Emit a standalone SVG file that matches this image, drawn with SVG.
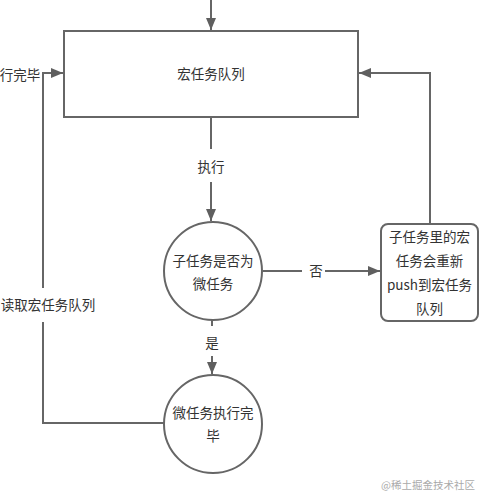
<svg xmlns="http://www.w3.org/2000/svg" width="488" height="504" viewBox="0 0 488 504">
<defs>
<marker id="ah" viewBox="0 0 12 10" refX="12" refY="5" markerWidth="12" markerHeight="10" markerUnits="userSpaceOnUse" orient="auto">
<path d="M0,0 L12,5 L0,10 Z" fill="#5f5f5f"/>
</marker>
<style>
.ln{fill:none;stroke:#666;stroke-width:2}
.nd{fill:#fff;stroke:#666;stroke-width:2}
.t{font-family:"Noto Sans CJK SC","Noto Sans",sans-serif;font-size:13.5px;fill:#333;text-anchor:middle;dominant-baseline:central}
.wm{font-family:"Noto Sans CJK SC","Noto Sans",sans-serif;font-size:10.5px;fill:#aaa;text-anchor:middle;dominant-baseline:central}
</style>
</defs>
<rect width="488" height="504" fill="#fff"/>
<g id="connectors">
<path class="ln" d="M211,0 L211,30" marker-end="url(#ah)"/>
<path class="ln" d="M211,117 L211,149"/>
<path class="ln" d="M211,182 L211,221" marker-end="url(#ah)"/>
<path class="ln" d="M263,271 L302,271"/>
<path class="ln" d="M325,271 L380,271" marker-end="url(#ah)"/>
<path class="ln" d="M212,320 L212,326"/>
<path class="ln" d="M212,356 L212,374" marker-end="url(#ah)"/>
<path class="ln" d="M430,224 L430,73 L359,73" marker-end="url(#ah)"/>
<path class="ln" d="M164,423 L43,423 L43,322"/>
<path class="ln" d="M43,288 L43,73 L63,73" marker-end="url(#ah)"/>
<text class="t" x="211" y="166">执行</text>
<text class="t" x="316" y="270">否</text>
<text class="t" x="212" y="342">是</text>
<text class="t" x="48" y="304">读取宏任务队列</text>
<text class="t" x="20" y="74">行完毕</text>
</g>
<g id="macro-queue">
<rect class="nd" x="64" y="31" width="294" height="86"/>
<text class="t" x="211" y="73">宏任务队列</text>
</g>
<g id="is-micro">
<circle class="nd" cx="213" cy="271" r="49"/>
<text class="t" x="213" y="260">子任务是否为</text>
<text class="t" x="213" y="283">微任务</text>
</g>
<g id="push-back">
<rect class="nd" x="381" y="224" width="97" height="97" rx="7"/>
<text class="t" x="429.5" y="236">子任务里的宏</text>
<text class="t" x="429.5" y="260">任务会重新</text>
<text class="t" x="429.5" y="284">push到宏任务</text>
<text class="t" x="429.5" y="308">队列</text>
</g>
<g id="micro-done">
<circle class="nd" cx="213" cy="424" r="49"/>
<text class="t" x="213" y="412">微任务执行完</text>
<text class="t" x="213" y="435">毕</text>
</g>
<text class="wm" x="428" y="484">@稀土掘金技术社区</text>
</svg>
